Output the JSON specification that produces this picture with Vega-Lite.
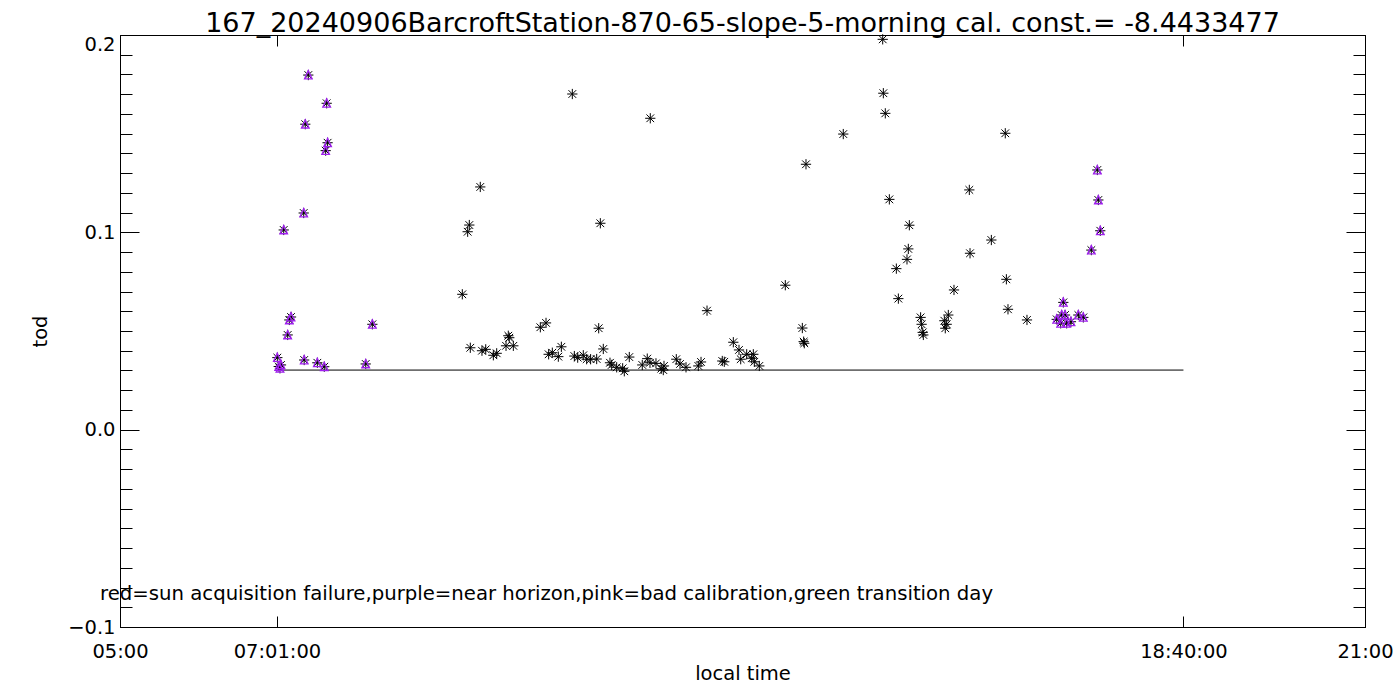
{
  "$schema": "https://vega.github.io/schema/vega-lite/v6.json",
  "width": 1245,
  "height": 592,
  "autosize": "none",
  "padding": {"left": 120, "top": 35, "right": 35, "bottom": 73},
  "background": "white",
  "config": {
    "view": {"stroke": "black", "strokeWidth": 1},
    "font": "DejaVu Sans",
    "axis": {
      "domainColor": "black", "tickColor": "black", "labelColor": "black", "titleColor": "black",
      "grid": false, "labelFont": "DejaVu Sans", "titleFont": "DejaVu Sans",
      "labelFontSize": 19.5, "titleFontSize": 19.5, "titleFontWeight": "normal", "labelFontWeight": "normal"
    }
  },
  "title": {
    "text": "167_20240906BarcroftStation-870-65-slope-5-morning cal. const.= -8.4433477",
    "fontSize": 27, "fontWeight": "normal", "font": "DejaVu Sans", "color": "black",
    "anchor": "middle", "offset": -6
  },
  "datasets": {
    "pts": [
      {"t": 7.022, "v": 0.0365, "p": 1}, {"t": 7.04, "v": 0.032, "p": 1}, {"t": 7.056, "v": 0.0311, "p": 1},
      {"t": 7.069, "v": 0.0328, "p": 1}, {"t": 7.104, "v": 0.1012, "p": 1}, {"t": 7.155, "v": 0.048, "p": 1},
      {"t": 7.176, "v": 0.0556, "p": 1}, {"t": 7.198, "v": 0.0571, "p": 1}, {"t": 7.361, "v": 0.1098, "p": 1},
      {"t": 7.367, "v": 0.0353, "p": 1}, {"t": 7.381, "v": 0.1548, "p": 1}, {"t": 7.42, "v": 0.1797, "p": 1},
      {"t": 7.536, "v": 0.0339, "p": 1}, {"t": 7.625, "v": 0.0319, "p": 1}, {"t": 7.643, "v": 0.1414, "p": 1},
      {"t": 7.656, "v": 0.1654, "p": 1}, {"t": 7.668, "v": 0.1454, "p": 1}, {"t": 8.158, "v": 0.0333, "p": 1},
      {"t": 8.243, "v": 0.0534, "p": 1},
      {"t": 9.399, "v": 0.0686, "p": 0}, {"t": 9.468, "v": 0.1003, "p": 0}, {"t": 9.489, "v": 0.1037, "p": 0},
      {"t": 9.502, "v": 0.0415, "p": 0}, {"t": 9.63, "v": 0.123, "p": 0}, {"t": 9.652, "v": 0.04, "p": 0},
      {"t": 9.7, "v": 0.0407, "p": 0}, {"t": 9.798, "v": 0.0377, "p": 0}, {"t": 9.841, "v": 0.0387, "p": 0},
      {"t": 9.961, "v": 0.0425, "p": 0}, {"t": 9.99, "v": 0.0476, "p": 0}, {"t": 10.003, "v": 0.0466, "p": 0},
      {"t": 10.055, "v": 0.0425, "p": 0}, {"t": 10.402, "v": 0.0519, "p": 0}, {"t": 10.475, "v": 0.0541, "p": 0},
      {"t": 10.509, "v": 0.0382, "p": 0}, {"t": 10.556, "v": 0.039, "p": 0}, {"t": 10.633, "v": 0.037, "p": 0},
      {"t": 10.672, "v": 0.042, "p": 0}, {"t": 10.813, "v": 0.1701, "p": 0}, {"t": 10.839, "v": 0.0373, "p": 0},
      {"t": 10.882, "v": 0.0365, "p": 0}, {"t": 10.954, "v": 0.0377, "p": 0}, {"t": 10.997, "v": 0.0357, "p": 0},
      {"t": 11.048, "v": 0.0357, "p": 0}, {"t": 11.126, "v": 0.0358, "p": 0}, {"t": 11.152, "v": 0.0514, "p": 0},
      {"t": 11.173, "v": 0.1046, "p": 0}, {"t": 11.211, "v": 0.0409, "p": 0}, {"t": 11.297, "v": 0.0339, "p": 0},
      {"t": 11.319, "v": 0.0328, "p": 0}, {"t": 11.383, "v": 0.0316, "p": 0}, {"t": 11.46, "v": 0.0311, "p": 0},
      {"t": 11.481, "v": 0.0296, "p": 0}, {"t": 11.545, "v": 0.0368, "p": 0}, {"t": 11.712, "v": 0.0328, "p": 0},
      {"t": 11.776, "v": 0.036, "p": 0}, {"t": 11.811, "v": 0.0339, "p": 0}, {"t": 11.815, "v": 0.1578, "p": 0},
      {"t": 11.888, "v": 0.0336, "p": 0}, {"t": 11.956, "v": 0.0309, "p": 0}, {"t": 11.982, "v": 0.0302, "p": 0},
      {"t": 11.991, "v": 0.0323, "p": 0}, {"t": 12.149, "v": 0.0357, "p": 0}, {"t": 12.197, "v": 0.0333, "p": 0},
      {"t": 12.274, "v": 0.0316, "p": 0}, {"t": 12.432, "v": 0.0323, "p": 0}, {"t": 12.467, "v": 0.0343, "p": 0},
      {"t": 12.544, "v": 0.0603, "p": 0}, {"t": 12.74, "v": 0.0348, "p": 0}, {"t": 12.766, "v": 0.0344, "p": 0},
      {"t": 12.882, "v": 0.0443, "p": 0}, {"t": 12.955, "v": 0.0404, "p": 0}, {"t": 12.977, "v": 0.0357, "p": 0},
      {"t": 13.054, "v": 0.0382, "p": 0}, {"t": 13.118, "v": 0.0362, "p": 0}, {"t": 13.139, "v": 0.0382, "p": 0},
      {"t": 13.152, "v": 0.0344, "p": 0}, {"t": 13.216, "v": 0.0323, "p": 0}, {"t": 13.55, "v": 0.0732, "p": 0},
      {"t": 13.769, "v": 0.0515, "p": 0}, {"t": 13.786, "v": 0.0446, "p": 0}, {"t": 13.794, "v": 0.0438, "p": 0},
      {"t": 13.816, "v": 0.1345, "p": 0}, {"t": 14.295, "v": 0.1498, "p": 0}, {"t": 14.802, "v": 0.1978, "p": 0},
      {"t": 14.81, "v": 0.1705, "p": 0}, {"t": 14.835, "v": 0.1603, "p": 0}, {"t": 14.887, "v": 0.1167, "p": 0},
      {"t": 14.977, "v": 0.0816, "p": 0}, {"t": 15.003, "v": 0.0664, "p": 0}, {"t": 15.114, "v": 0.0863, "p": 0},
      {"t": 15.131, "v": 0.0916, "p": 0}, {"t": 15.144, "v": 0.1036, "p": 0}, {"t": 15.289, "v": 0.0569, "p": 0},
      {"t": 15.302, "v": 0.0534, "p": 0}, {"t": 15.316, "v": 0.0493, "p": 0}, {"t": 15.324, "v": 0.048, "p": 0},
      {"t": 15.594, "v": 0.0552, "p": 0}, {"t": 15.606, "v": 0.0514, "p": 0}, {"t": 15.624, "v": 0.0534, "p": 0},
      {"t": 15.645, "v": 0.0581, "p": 0}, {"t": 15.718, "v": 0.0708, "p": 0}, {"t": 15.915, "v": 0.1215, "p": 0},
      {"t": 15.924, "v": 0.0894, "p": 0}, {"t": 16.198, "v": 0.0961, "p": 0}, {"t": 16.377, "v": 0.1502, "p": 0},
      {"t": 16.391, "v": 0.0762, "p": 0}, {"t": 16.412, "v": 0.061, "p": 0}, {"t": 16.656, "v": 0.0556, "p": 0},
      {"t": 17.038, "v": 0.0559, "p": 1}, {"t": 17.089, "v": 0.0539, "p": 1}, {"t": 17.102, "v": 0.0581, "p": 1},
      {"t": 17.123, "v": 0.0645, "p": 1}, {"t": 17.145, "v": 0.0581, "p": 1}, {"t": 17.166, "v": 0.0539, "p": 1},
      {"t": 17.221, "v": 0.0547, "p": 1}, {"t": 17.316, "v": 0.0581, "p": 1}, {"t": 17.38, "v": 0.0569, "p": 1},
      {"t": 17.483, "v": 0.091, "p": 1}, {"t": 17.56, "v": 0.1316, "p": 1}, {"t": 17.573, "v": 0.1164, "p": 1},
      {"t": 17.598, "v": 0.1008, "p": 1}
    ]
  },
  "layer": [
    {
      "data": {"values": [{"t": 7.0167, "v": 0.0302}, {"t": 18.6667, "v": 0.0302}]},
      "mark": {"type": "line", "color": "black", "strokeWidth": 1},
      "encoding": {
        "x": {"field": "t", "type": "quantitative", "scale": {"domain": [5, 21], "nice": false, "zero": false}, "axis": null},
        "y": {"field": "v", "type": "quantitative", "scale": {"domain": [-0.1, 0.2], "nice": false, "zero": false}, "axis": null}
      }
    },
    {
      "data": {"name": "pts"},
      "mark": {"type": "point", "shape": "M-1,0L1,0M0,-1L0,1M-0.75,-0.75L0.75,0.75M-0.75,0.75L0.75,-0.75", "size": 105, "filled": false, "stroke": "black", "strokeWidth": 1, "opacity": 1},
      "encoding": {
        "x": {"field": "t", "type": "quantitative", "scale": {"domain": [5, 21], "nice": false, "zero": false},
          "axis": {"orient": "bottom", "title": "local time", "values": [5, 7.01667, 18.66667, 21],
            "labelExpr": "datum.value < 6 ? '05:00' : datum.value < 8 ? '07:01:00' : datum.value < 20 ? '18:40:00' : '21:00'",
            "tickSize": -11, "labelPadding": 26, "titlePadding": 4, "labelFlush": false}},
        "y": {"field": "v", "type": "quantitative", "scale": {"domain": [-0.1, 0.2], "nice": false, "zero": false},
          "axis": {"orient": "left", "title": "tod",
            "values": [-0.1, -0.09, -0.08, -0.07, -0.06, -0.05, -0.04, -0.03, -0.02, -0.01, 0, 0.01, 0.02, 0.03, 0.04, 0.05, 0.06, 0.07, 0.08, 0.09, 0.1, 0.11, 0.12, 0.13, 0.14, 0.15, 0.16, 0.17, 0.18, 0.19, 0.2],
            "labelExpr": "abs(datum.value*10 - round(datum.value*10)) < 0.001 ? format(datum.value, '.1f') : ''",
            "tickSize": {"condition": {"test": "abs(datum.value*10 - round(datum.value*10)) < 0.001", "value": -19}, "value": -12},
            "labelPadding": 24,
            "labelBaseline": {"condition": {"test": "datum.value > 0.15", "value": "top"}, "value": "middle"},
            "labelFlush": false, "titlePadding": 17}}
      }
    },
    {
      "data": {"name": "pts"},
      "transform": [{"filter": "datum.p == 1"}],
      "mark": {"type": "point", "shape": "M0,-1L0.85,0.85L-0.85,0.85Z", "size": 80, "filled": false, "stroke": "#a020f0", "strokeWidth": 1.3, "opacity": 1},
      "encoding": {
        "x": {"field": "t", "type": "quantitative", "scale": {"domain": [5, 21], "nice": false, "zero": false},
          "axis": {"orient": "top", "title": null, "labels": false, "values": [7.01667, 18.66667], "tickSize": -11}},
        "y": {"field": "v", "type": "quantitative", "scale": {"domain": [-0.1, 0.2], "nice": false, "zero": false},
          "axis": {"orient": "right", "title": null, "labels": false,
            "values": [-0.1, -0.09, -0.08, -0.07, -0.06, -0.05, -0.04, -0.03, -0.02, -0.01, 0, 0.01, 0.02, 0.03, 0.04, 0.05, 0.06, 0.07, 0.08, 0.09, 0.1, 0.11, 0.12, 0.13, 0.14, 0.15, 0.16, 0.17, 0.18, 0.19, 0.2],
            "tickSize": {"condition": {"test": "abs(datum.value*10 - round(datum.value*10)) < 0.001", "value": -19}, "value": -12}}}
      }
    },
    {
      "data": {"values": [{"t": 4.743, "v": -0.0833, "label": "red=sun acquisition failure,purple=near horizon,pink=bad calibration,green transition day"}]},
      "mark": {"type": "text", "align": "left", "baseline": "middle", "fontSize": 19.7, "font": "DejaVu Sans", "color": "black", "clip": false},
      "encoding": {
        "x": {"field": "t", "type": "quantitative", "scale": {"domain": [5, 21], "nice": false, "zero": false}, "axis": null},
        "y": {"field": "v", "type": "quantitative", "scale": {"domain": [-0.1, 0.2], "nice": false, "zero": false}, "axis": null},
        "text": {"field": "label"}
      }
    }
  ],
  "resolve": {"axis": {"x": "independent", "y": "independent"}}
}
